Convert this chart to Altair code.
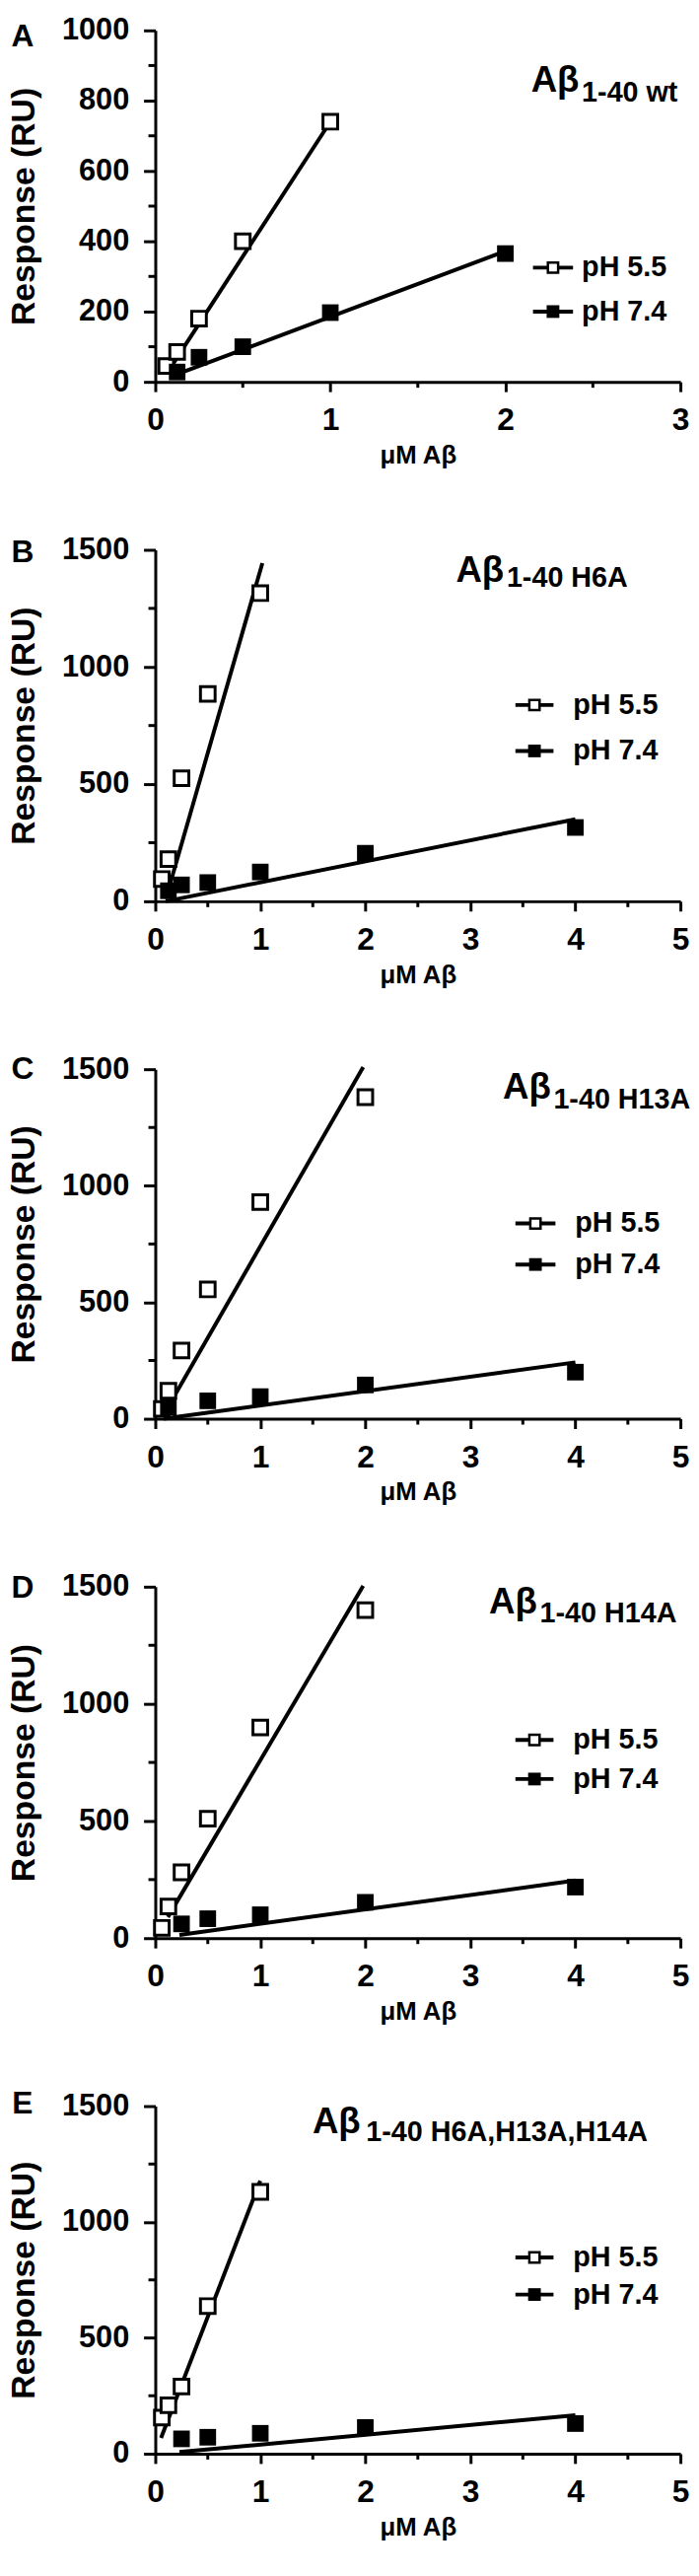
import altair as alt
import pandas as pd

# ---------------- data ----------------
panel_letters = ["A", "B", "C", "D", "E"]
title_main = ["Aβ", "Aβ", "Aβ", "Aβ", "Aβ"]
title_sub = ["1-40 wt", "1-40 H6A", "1-40 H13A", "1-40 H14A", "1-40  H6A,H13A,H14A"]
legend_labels = ["pH 5.5", "pH 7.4"]
x_title = "μM Aβ"
y_title = "Response (RU)"

x_max = [3, 5, 5, 5, 5]
y_max = [1000, 1500, 1500, 1500, 1500]
x_major = [[0, 1, 2, 3], [0, 1, 2, 3, 4, 5], [0, 1, 2, 3, 4, 5], [0, 1, 2, 3, 4, 5], [0, 1, 2, 3, 4, 5]]
x_minor = [[0.5, 1.5, 2.5], [0.5, 1.5, 2.5, 3.5, 4.5], [0.5, 1.5, 2.5, 3.5, 4.5],
           [0.5, 1.5, 2.5, 3.5, 4.5], [0.5, 1.5, 2.5, 3.5, 4.5]]
y_major = [[0, 200, 400, 600, 800, 1000], [0, 500, 1000, 1500], [0, 500, 1000, 1500],
           [0, 500, 1000, 1500], [0, 500, 1000, 1500]]
y_minor = [[100, 300, 500, 700, 900], [250, 750, 1250], [250, 750, 1250], [250, 750, 1250], [250, 750, 1250]]

# pH 5.5 (open squares)
x55 = [
    [0.0625, 0.125, 0.25, 0.5, 1],
    [0.0625, 0.125, 0.25, 0.5, 1],
    [0.0625, 0.125, 0.25, 0.5, 1, 2],
    [0.0625, 0.125, 0.25, 0.5, 1, 2],
    [0.0625, 0.125, 0.25, 0.5, 1],
]
y55 = [
    [45, 85, 180, 400, 740],
    [95, 180, 525, 885, 1315],
    [42, 120, 293, 555, 930, 1380],
    [44, 135, 281, 510, 899, 1400],
    [156, 209, 290, 637, 1130],
]
# pH 7.4 (filled squares)
x74 = [
    [0.125, 0.25, 0.5, 1, 2],
    [0.125, 0.25, 0.5, 1, 2, 4],
    [0.125, 0.5, 1, 2, 4],
    [0.25, 0.5, 1, 2, 4],
    [0.25, 0.5, 1, 2, 4],
]
y74 = [
    [28, 70, 100, 197, 365],
    [45, 70, 80, 125, 205, 315],
    [50, 77, 95, 145, 200],
    [61, 83, 100, 153, 218],
    [64, 71, 88, 113, 130],
]
# fitted lines (end points)
fit55_x = [[0.1, 1.0], [0.1, 1.02], [0.07, 1.98], [0.12, 1.98], [0.055, 1.0]]
fit55_y = [[50, 740], [10, 1443], [10, 1509], [90, 1504], [68, 1178]]
fit74_x = [[0.125, 2.0], [0.1, 4.0], [0.08, 4.0], [0.23, 4.0], [0.23, 4.0]]
fit74_y = [[22, 372], [0, 350], [0, 242], [14, 246], [7, 166]]

# ---------------- layout / style ----------------
W = 538
heights = [360, 360, 358, 360, 356]
FONT = "Liberation Sans"
leg_line = [(387, 428, 437), (369, 408, 428), (369, 410, 430), (369, 408, 428), (369, 408, 428)]
leg_rows = [(243, 288), (159, 206), (158, 200), (157, 197), (155, 193)]
title_pos = [(385, 63, 437, 73), (308, 33, 360, 38), (356, 30, 408, 40), (342, 27, 394, 36), (161, 28, 216, 36)]
letter_y = [16, 13, 10, 11, 8]


def one_row(**kw):
    return pd.DataFrame({k: [v] for k, v in kw.items()})


def panel(i):
    H = heights[i]
    xs = alt.Scale(domain=[0, x_max[i]], nice=False, zero=True)
    ys = alt.Scale(domain=[0, y_max[i]], nice=False, zero=True)
    x_enc = alt.X("x:Q", scale=xs, axis=alt.Axis(values=x_major[i], title=x_title, tickSize=10,
                                                  labelPadding=14, labelFontSize=32, titleFontSize=26,
                                                  titlePadding=7, labelFlush=False, labelOverlap=False,
                                                  format="d"))
    y_enc = alt.Y("y:Q", scale=ys, axis=alt.Axis(values=y_major[i], title=y_title, tickSize=12,
                                                  labelPadding=15, labelFontSize=31, titleFontSize=34,
                                                  titlePadding=21, labelFlush=False, labelOverlap=False,
                                                  format="d"))

    d55 = pd.DataFrame({"x": x55[i], "y": y55[i]})
    d74 = pd.DataFrame({"x": x74[i], "y": y74[i]})
    f55 = pd.DataFrame({"x": fit55_x[i], "y": fit55_y[i]})
    f74 = pd.DataFrame({"x": fit74_x[i], "y": fit74_y[i]})

    line55 = alt.Chart(f55).mark_line(color="black", strokeWidth=4).encode(x=x_enc, y=y_enc)
    line74 = alt.Chart(f74).mark_line(color="black", strokeWidth=4).encode(x=x_enc, y=y_enc)
    open_pts = alt.Chart(d55).mark_point(shape="square", filled=True, fill="white", stroke="black",
                                         strokeWidth=3, size=225, opacity=1).encode(x=x_enc, y=y_enc)
    fill_pts = alt.Chart(d74).mark_point(shape="square", filled=True, fill="black", strokeWidth=0,
                                         size=289, opacity=1).encode(x=x_enc, y=y_enc)

    xm = alt.Chart(pd.DataFrame({"x": x_minor[i]})).mark_rule(color="black", strokeWidth=3).encode(
        x=x_enc, y=alt.value(H), y2=alt.value(H + 6))
    ym = alt.Chart(pd.DataFrame({"y": y_minor[i]})).mark_rule(color="black", strokeWidth=3).encode(
        y=y_enc, x=alt.value(-7), x2=alt.value(0))

    # legend
    lx1, lx2, tx = leg_line[i]
    r1, r2 = leg_rows[i]
    leg = []
    for lab, ry, filled in [(legend_labels[0], r1, False), (legend_labels[1], r2, True)]:
        row = one_row(label=lab)
        leg.append(alt.Chart(row).mark_rule(color="black", strokeWidth=4).encode(
            x=alt.value(lx1), x2=alt.value(lx2), y=alt.value(ry)))
        if filled:
            leg.append(alt.Chart(row).mark_point(shape="square", filled=True, fill="black", strokeWidth=0,
                                                 size=169, opacity=1).encode(
                x=alt.value((lx1 + lx2) / 2), y=alt.value(ry)))
        else:
            leg.append(alt.Chart(row).mark_point(shape="square", filled=True, fill="white", stroke="black",
                                                 strokeWidth=2.5, size=110, opacity=1).encode(
                x=alt.value((lx1 + lx2) / 2), y=alt.value(ry)))
        leg.append(alt.Chart(row).mark_text(font=FONT, fontSize=29, fontWeight="bold", color="black",
                                            align="left", baseline="middle").encode(
            x=alt.value(tx), y=alt.value(ry), text="label:N"))

    mx, my, sx, sy = title_pos[i]
    t_main = alt.Chart(one_row(t=title_main[i])).mark_text(
        font=FONT, fontSize=37, fontWeight="bold", color="black", align="left", baseline="alphabetic"
    ).encode(x=alt.value(mx), y=alt.value(my), text="t:N")
    t_sub = alt.Chart(one_row(t=title_sub[i])).mark_text(
        font=FONT, fontSize=29, fontWeight="bold", color="black", align="left", baseline="alphabetic"
    ).encode(x=alt.value(sx), y=alt.value(sy), text="t:N")
    letter = alt.Chart(one_row(t=panel_letters[i])).mark_text(
        font=FONT, fontSize=32, fontWeight="bold", color="black", align="center", baseline="alphabetic"
    ).encode(x=alt.value(-136), y=alt.value(letter_y[i]), text="t:N")

    return alt.layer(line55, line74, open_pts, fill_pts, xm, ym, *leg, t_main, t_sub, letter).properties(
        width=W, height=H)


chart = alt.vconcat(*[panel(i) for i in range(5)], spacing=172, bounds="flush").properties(
    padding={"left": 0, "top": -6, "right": 0, "bottom": 0},
    background="white",
).configure_view(stroke=None).configure_axis(
    grid=False,
    domainColor="black", domainWidth=3,
    tickColor="black", tickWidth=3,
    labelFont=FONT, labelFontWeight="bold", labelColor="black",
    titleFont=FONT, titleFontWeight="bold", titleColor="black",
)

chart.save("out.html", embed_options={"renderer": "svg", "actions": False})
